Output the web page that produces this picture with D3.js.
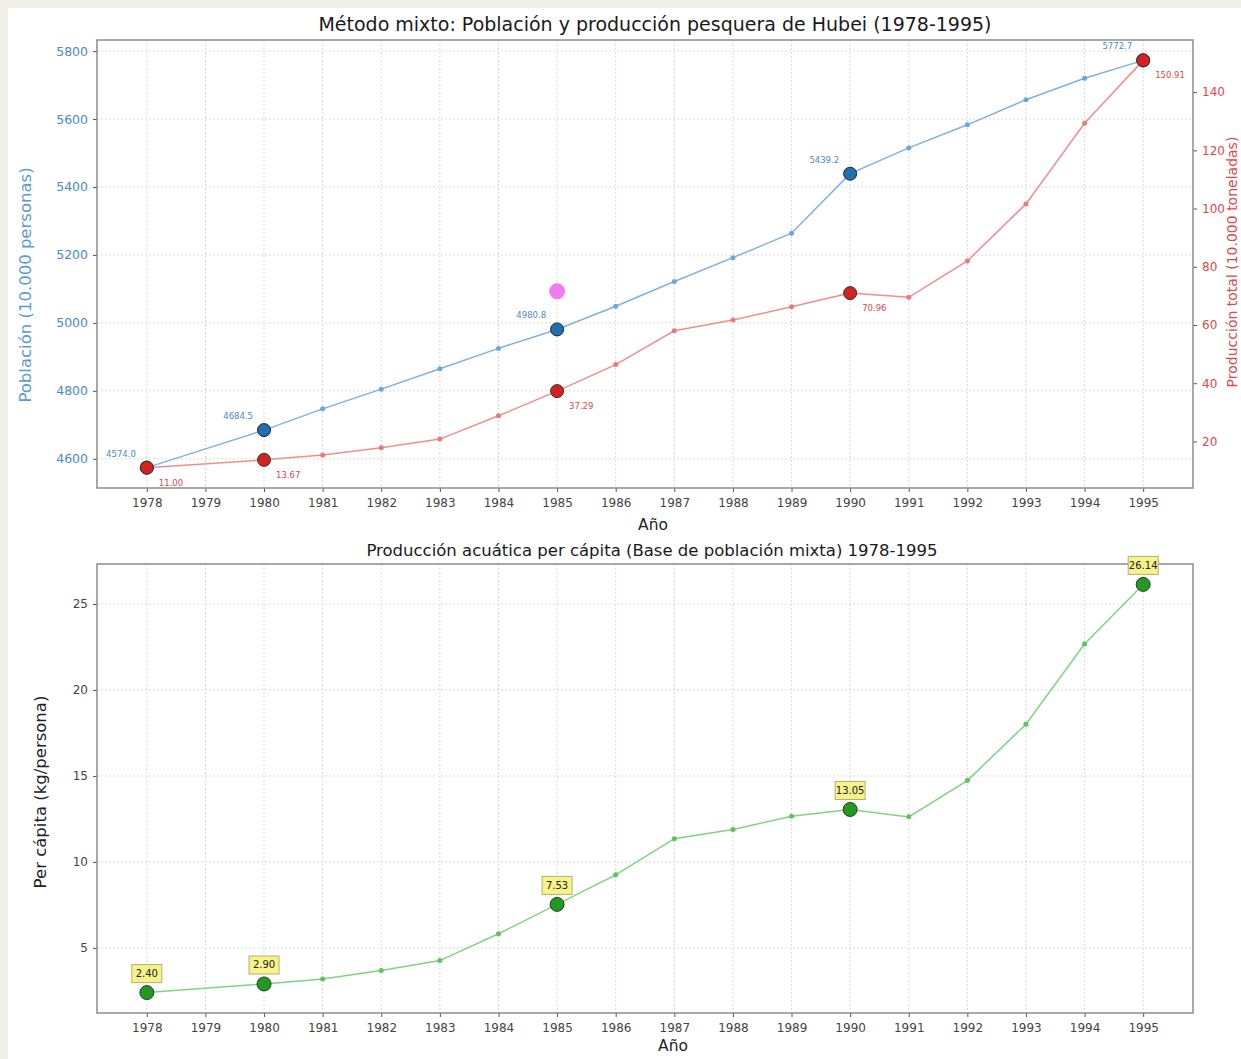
<!DOCTYPE html>
<html><head><meta charset="utf-8">
<script src="https://cdn.jsdelivr.net/npm/d3@7"></script>
<style>
html,body{margin:0;padding:0;background:#f2efe7;}
svg{display:block;}
text{font-family:"DejaVu Sans","Noto Sans",sans-serif;}
</style></head>
<body>
<svg id="c" width="1241" height="1059"></svg>
<script>
const years = [1978,1980,1981,1982,1983,1984,1985,1986,1987,1988,1989,1990,1991,1992,1993,1994,1995];
const tickYears = [1978,1979,1980,1981,1982,1983,1984,1985,1986,1987,1988,1989,1990,1991,1992,1993,1994,1995];
const population = [4574.0,4684.5,4747,4805,4865,4925,4980.8,5049,5122,5192,5264,5439.2,5515,5583,5657,5720,5772.7];
const production = [11.00,13.67,15.3,17.8,20.8,28.8,37.29,46.4,58.0,61.7,66.3,70.96,69.5,82.0,101.6,129.3,150.91];
const perCapita = [2.40,2.90,3.19,3.68,4.26,5.82,7.53,9.25,11.35,11.89,12.65,13.05,12.62,14.73,18.01,22.67,26.14];
const highlightYears = [1978,1980,1985,1990,1995];
const popTicks = [4600,4800,5000,5200,5400,5600,5800];
const prodTicks = [20,40,60,80,100,120,140];
const pcTicks = [5,10,15,20,25];
const extraPoint = [{year:1985, value:5093}];

const svg = d3.select("#c");
svg.append("rect").attr("x",8).attr("y",8).attr("width",1233).attr("height",1051).attr("fill","#ffffff");

function pad(ext){const r=ext[1]-ext[0];return [ext[0]-0.05*r, ext[1]+0.05*r];}

const L=97, R=1193;
const x = d3.scaleLinear().domain(pad([1978,1995])).range([L,R]);

function grid(g, yScale, yTicks, top, bottom){
  g.selectAll(".vg").data(tickYears).join("line")
    .attr("x1",d=>x(d)).attr("x2",d=>x(d)).attr("y1",top).attr("y2",bottom)
    .attr("stroke","#d9d9d9").attr("stroke-width",1).attr("stroke-dasharray","2,2");
  g.selectAll(".hg").data(yTicks).join("line")
    .attr("x1",L).attr("x2",R).attr("y1",d=>yScale(d)).attr("y2",d=>yScale(d))
    .attr("stroke","#d9d9d9").attr("stroke-width",1).attr("stroke-dasharray","2,2");
}
function frame(g, top, bottom){
  g.append("rect").attr("x",L).attr("y",top).attr("width",R-L).attr("height",bottom-top)
    .attr("fill","none").attr("stroke","#8c8c8c").attr("stroke-width",1.5);
}
function styleAxis(sel, color, size){
  sel.select(".domain").remove();
  sel.selectAll(".tick line").attr("stroke","#555");
  sel.selectAll(".tick text").attr("fill",color).style("font-size",size);
}

// ---------- Top chart ----------
const T1=40, B1=488;
const yPop = d3.scaleLinear().domain(pad(d3.extent(population))).range([B1,T1]);
const yProd = d3.scaleLinear().domain(pad(d3.extent(production))).range([B1,T1]);
const g1 = svg.append("g");
grid(g1, yPop, popTicks, T1, B1);

g1.append("g").attr("transform",`translate(0,${B1})`)
  .call(d3.axisBottom(x).tickValues(tickYears).tickFormat(d3.format("d")).tickSize(4).tickPadding(6))
  .call(s=>styleAxis(s,"#444","12px"));
g1.append("g").attr("transform",`translate(${L},0)`)
  .call(d3.axisLeft(yPop).tickValues(popTicks).tickSize(4).tickPadding(5).tickFormat(d3.format("d")))
  .call(s=>styleAxis(s,"#4a88c7","12.5px"));
g1.append("g").attr("transform",`translate(${R},0)`)
  .call(d3.axisRight(yProd).tickValues(prodTicks).tickSize(4).tickPadding(5).tickFormat(d3.format("d")))
  .call(s=>styleAxis(s,"#e0474c","12px"));
frame(g1, T1, B1);

const popData = years.map((y,i)=>({year:y,v:population[i]}));
const prodData = years.map((y,i)=>({year:y,v:production[i]}));

g1.append("path").datum(popData)
  .attr("d", d3.line().x(d=>x(d.year)).y(d=>yPop(d.v)))
  .attr("fill","none").attr("stroke","#7fb2df").attr("stroke-width",1.5);
g1.selectAll(".pm").data(popData).join("circle")
  .attr("cx",d=>x(d.year)).attr("cy",d=>yPop(d.v)).attr("r",2.5).attr("fill","#6ea6d9");
g1.append("path").datum(prodData)
  .attr("d", d3.line().x(d=>x(d.year)).y(d=>yProd(d.v)))
  .attr("fill","none").attr("stroke","#ef8e8e").attr("stroke-width",1.5);
g1.selectAll(".rm").data(prodData).join("circle")
  .attr("cx",d=>x(d.year)).attr("cy",d=>yProd(d.v)).attr("r",2.5).attr("fill","#ea7a7a");

const popH = popData.filter(d=>highlightYears.includes(d.year));
const prodH = prodData.filter(d=>highlightYears.includes(d.year));
g1.selectAll(".ph").data(popH).join("circle")
  .attr("cx",d=>x(d.year)).attr("cy",d=>yPop(d.v)).attr("r",6.5)
  .attr("fill","#1f6fb2").attr("stroke","#222").attr("stroke-width",1);
g1.selectAll(".rh").data(prodH).join("circle")
  .attr("cx",d=>x(d.year)).attr("cy",d=>yProd(d.v)).attr("r",6.5)
  .attr("fill","#d42222").attr("stroke","#333").attr("stroke-width",1);
g1.selectAll(".pl").data(popH).join("text")
  .attr("x",d=>x(d.year)-11).attr("y",d=>yPop(d.v)-14).attr("dy","0.35em")
  .attr("text-anchor","end").attr("fill","#4a88c7").style("font-size","8.5px")
  .text(d=>d3.format(".1f")(d.v));
g1.selectAll(".rl").data(prodH).join("text")
  .attr("x",d=>x(d.year)+12).attr("y",d=>yProd(d.v)+15).attr("dy","0.35em")
  .attr("text-anchor","start").attr("fill","#e0474c").style("font-size","8.5px")
  .text(d=>d3.format(".2f")(d.v));
g1.selectAll(".ex").data(extraPoint).join("circle")
  .attr("cx",d=>x(d.year)).attr("cy",d=>yPop(d.value)).attr("r",8).attr("fill","#f07cf0");

svg.append("text").attr("x",655).attr("y",31).attr("text-anchor","middle")
  .attr("fill","#1a1a1a").style("font-size","19px")
  .text("Método mixto: Población y producción pesquera de Hubei (1978-1995)");
svg.append("text").attr("x",653).attr("y",530).attr("text-anchor","middle")
  .attr("fill","#222").style("font-size","15.5px").text("Año");
svg.append("text").attr("transform","translate(31,285) rotate(-90)").attr("text-anchor","middle")
  .attr("fill","#5b9bd5").style("font-size","16.5px").text("Población (10.000 personas)");
svg.append("text").attr("transform","translate(1237,262) rotate(-90)").attr("text-anchor","middle")
  .attr("fill","#e0474c").style("font-size","14px").text("Producción total (10.000 toneladas)");

// ---------- Bottom chart ----------
const T2=564, B2=1013;
const yPc = d3.scaleLinear().domain(pad(d3.extent(perCapita))).range([B2,T2]);
const g2 = svg.append("g");
grid(g2, yPc, pcTicks, T2, B2);
g2.append("g").attr("transform",`translate(0,${B2})`)
  .call(d3.axisBottom(x).tickValues(tickYears).tickFormat(d3.format("d")).tickSize(4).tickPadding(6))
  .call(s=>styleAxis(s,"#444","12px"));
g2.append("g").attr("transform",`translate(${L},0)`)
  .call(d3.axisLeft(yPc).tickValues(pcTicks).tickSize(4).tickPadding(5).tickFormat(d3.format("d")))
  .call(s=>styleAxis(s,"#444","12px"));
frame(g2, T2, B2);

const pcData = years.map((y,i)=>({year:y,v:perCapita[i]}));
g2.append("path").datum(pcData)
  .attr("d", d3.line().x(d=>x(d.year)).y(d=>yPc(d.v)))
  .attr("fill","none").attr("stroke","#82d282").attr("stroke-width",1.5);
g2.selectAll(".gm").data(pcData).join("circle")
  .attr("cx",d=>x(d.year)).attr("cy",d=>yPc(d.v)).attr("r",2.5).attr("fill","#5fc25f");
const pcH = pcData.filter(d=>highlightYears.includes(d.year));
g2.selectAll(".gh").data(pcH).join("circle")
  .attr("cx",d=>x(d.year)).attr("cy",d=>yPc(d.v)).attr("r",7)
  .attr("fill","#229a22").attr("stroke","#333").attr("stroke-width",1);
const lab = g2.selectAll(".gl").data(pcH).join("g")
  .attr("transform",d=>`translate(${x(d.year)},${yPc(d.v)-19})`);
lab.append("rect").attr("x",-15).attr("y",-9).attr("width",30).attr("height",18)
  .attr("fill","#f7f38a").attr("stroke","#b5b070").attr("stroke-width",1);
lab.append("text").attr("text-anchor","middle").attr("dy","0.35em")
  .attr("fill","#222").style("font-size","10px").text(d=>d3.format(".2f")(d.v));

svg.append("text").attr("x",652).attr("y",556).attr("text-anchor","middle")
  .attr("fill","#1a1a1a").style("font-size","16.5px")
  .text("Producción acuática per cápita (Base de población mixta) 1978-1995");
svg.append("text").attr("x",673).attr("y",1051).attr("text-anchor","middle")
  .attr("fill","#222").style("font-size","15.5px").text("Año");
svg.append("text").attr("transform","translate(46,792) rotate(-90)").attr("text-anchor","middle")
  .attr("fill","#222").style("font-size","16.5px").text("Per cápita (kg/persona)");
</script>
</body></html>
